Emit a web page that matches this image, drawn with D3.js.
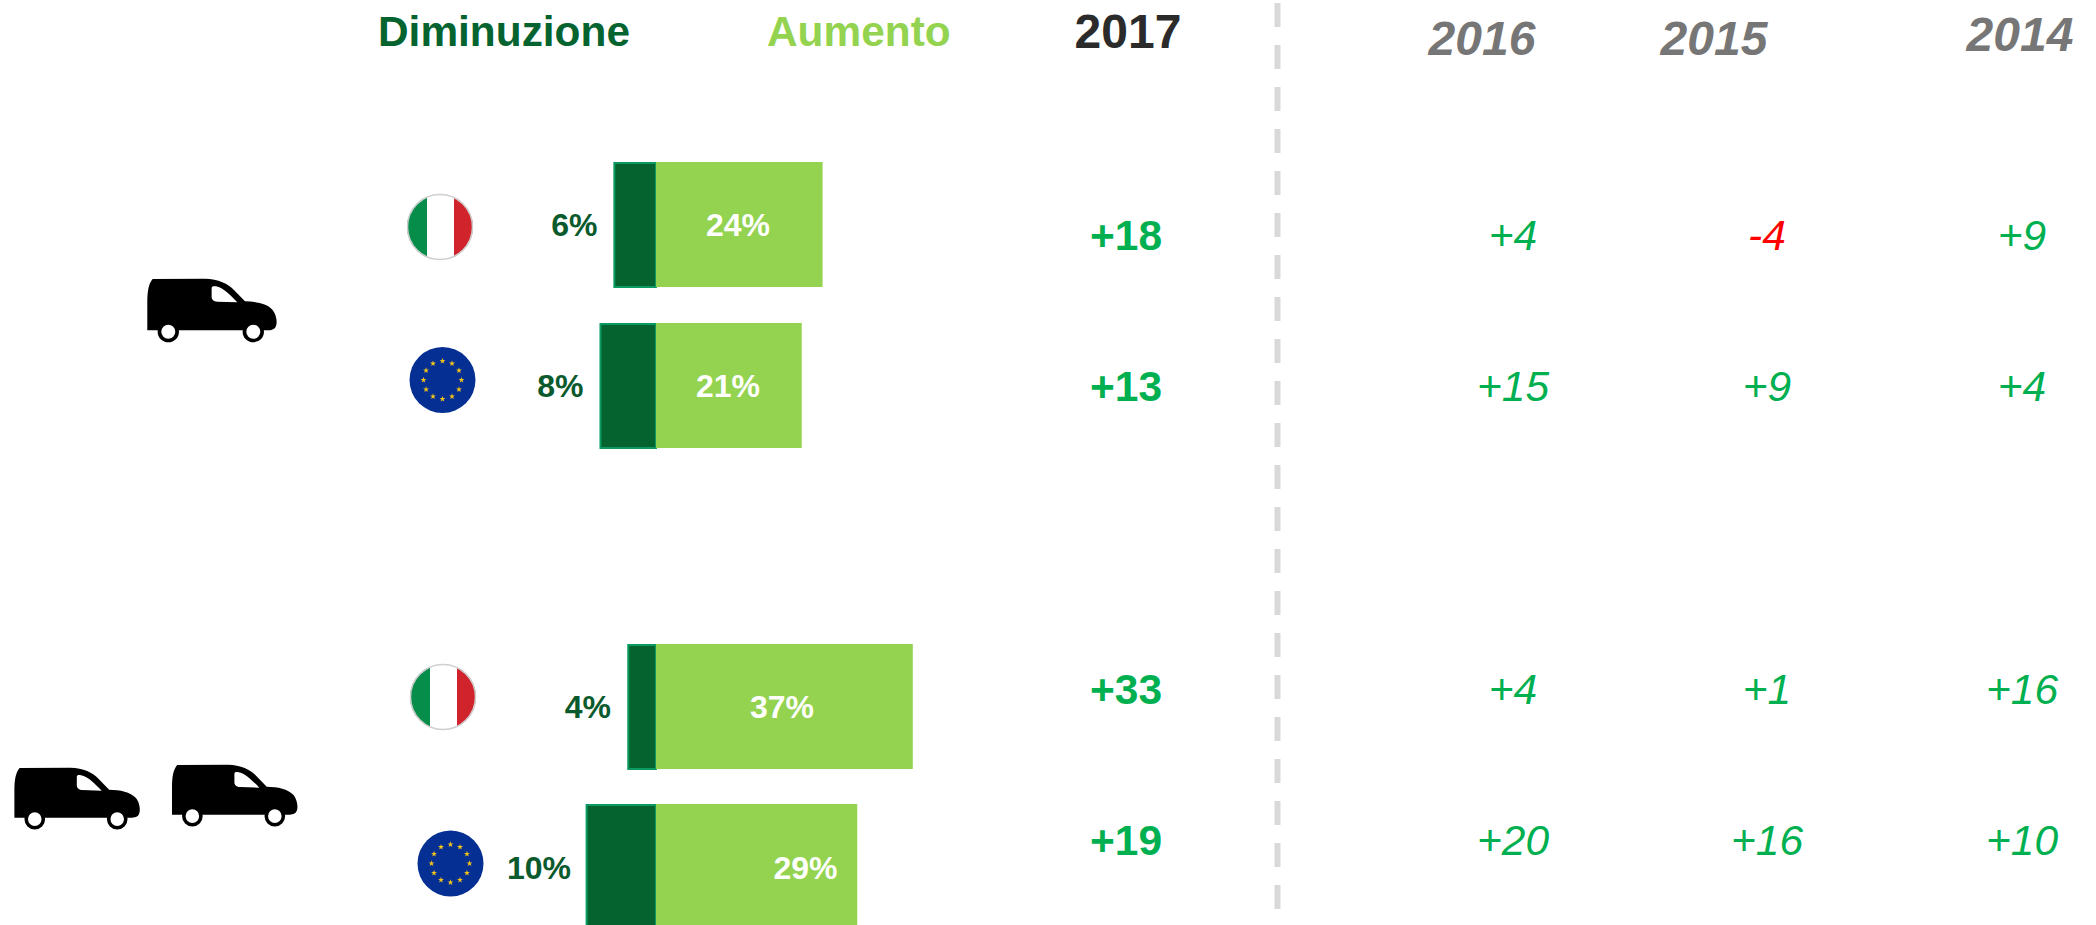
<!DOCTYPE html>
<html><head><meta charset="utf-8">
<script src="https://cdn.jsdelivr.net/npm/d3@7"></script>
<style>html,body{margin:0;padding:0;background:#fff;overflow:hidden}svg{display:block}text{font-family:"Liberation Sans",Arial,sans-serif}</style>
</head><body><svg id="c" width="2096" height="925"></svg>
<script>
const rowFlags = ["it","eu","it","eu"];
const decrease = [6,8,4,10];
const increase = [24,21,37,29];
const years = ["2017","2016","2015","2014"];
const v2017 = ["+18","+13","+33","+19"];
const v2016 = ["+4","+15","+4","+20"];
const v2015 = ["-4","+9","+1","+16"];
const v2014 = ["+9","+4","+16","+10"];
const legendLabels = ["Diminuzione","Aumento"];

const svg = d3.select("#c");
const x = d3.scaleLinear().domain([0,10]).range([656,725.4]);
const barTop = [162,323,644,804];
const flagC = [[440,227],[442.5,380],[443,697],[450.5,863.5]];
const decLabelRight = [597.5,583.5,611,571];
const incLabelC = [738,728,782,805.5];
const labelBase = [236,397,718,879];
const valueBase = [250,401,704,855];
const BH = 125;

// bars
rowFlags.forEach((f,i)=>{
  svg.append("rect").attr("x",x(-decrease[i])).attr("y",barTop[i]+1).attr("width",x(0)-x(-decrease[i])).attr("height",BH-1)
    .attr("fill","#04632f").attr("stroke","#0b9a62").attr("stroke-width",2);
  svg.append("rect").attr("x",x(0)).attr("y",barTop[i]).attr("width",x(increase[i])-x(0)).attr("height",BH).attr("fill","#93d34f");
  svg.append("text").attr("x",decLabelRight[i]).attr("y",labelBase[i]).attr("text-anchor","end").attr("font-size",32).attr("font-weight",700).attr("fill","#0a5a2d").text(decrease[i]+"%");
  svg.append("text").attr("x",incLabelC[i]).attr("y",labelBase[i]).attr("text-anchor","middle").attr("font-size",32).attr("font-weight",700).attr("fill","#fff").text(increase[i]+"%");
});

// flags
const defs = svg.append("defs");
function flag(cx,cy,kind,id){
  const r = 33;
  if(kind==="it"){
    defs.append("clipPath").attr("id",id).append("circle").attr("cx",cx).attr("cy",cy).attr("r",r);
    const g = svg.append("g").attr("clip-path",`url(#${id})`);
    g.append("rect").attr("x",cx-r).attr("y",cy-r).attr("width",20).attr("height",2*r).attr("fill","#078d4a");
    g.append("rect").attr("x",cx-r+20).attr("y",cy-r).attr("width",27).attr("height",2*r).attr("fill","#fff");
    g.append("rect").attr("x",cx-r+47).attr("y",cy-r).attr("width",19).attr("height",2*r).attr("fill","#d0232b");
    svg.append("circle").attr("cx",cx).attr("cy",cy).attr("r",r-.5).attr("fill","none").attr("stroke","#cfcfcf").attr("stroke-width",1.5);
  } else {
    svg.append("circle").attr("cx",cx).attr("cy",cy).attr("r",r).attr("fill","#052f93");
    const star = d3.symbol().type(d3.symbolStar).size(11);
    d3.range(12).forEach(k=>{
      const a = k*Math.PI/6;
      svg.append("path").attr("d",star()).attr("fill","#f5c518")
        .attr("transform",`translate(${cx+19*Math.sin(a)},${cy-19*Math.cos(a)})`);
    });
  }
}
rowFlags.forEach((f,i)=>flag(flagC[i][0],flagC[i][1],f,"cl"+i));

// vans (path traced at 3x)
const vanD = "M52,211 L52,130 C52,90 57,70 68,57 L225,56 C265,56 295,72 312,90 L345,124 C380,125 410,130 428,150 C440,165 443,190 437,200 C433,208 425,211 410,211 Z";
const vanW = "M245,85 C245,78 250,78 258,79 C280,83 300,105 322,127 L262,125 C250,124 245,118 245,110 Z";
function van(left,top,k){
  const s = k/3;
  const g = svg.append("g").attr("transform",`translate(${left-52*s},${top-56*s}) scale(${s})`);
  g.append("path").attr("d",vanD).attr("fill","#000");
  g.append("path").attr("d",vanW).attr("fill","#fff");
  [115,370].forEach(cx=>{
    g.append("circle").attr("cx",cx).attr("cy",215).attr("r",26.5).attr("fill","#fff").attr("stroke","#000").attr("stroke-width",11);
  });
}
van(147.3,278.7,1); van(14.4,767.7,0.97); van(172,764.7,0.97);

// headers
svg.append("text").attr("x",378).attr("y",46).attr("font-size",42.4).attr("font-weight",700).attr("fill","#04632f").text(legendLabels[0]);
svg.append("text").attr("x",767).attr("y",46).attr("font-size",42.4).attr("font-weight",700).attr("fill","#93d34f").text(legendLabels[1]);
svg.append("text").attr("x",1128).attr("y",48).attr("text-anchor","middle").attr("font-size",48).attr("font-weight",700).attr("fill","#2b2b2b").text(years[0]);
const headC = [1482,1714,2020], headY=[55,55,51];
years.slice(1).forEach((y,i)=>{
  svg.append("text").attr("x",headC[i]).attr("y",headY[i]).attr("text-anchor","middle").attr("font-size",48).attr("font-weight",700).attr("font-style","italic").attr("fill","#767676").text(y);
});

// divider
svg.append("line").attr("x1",1277.5).attr("x2",1277.5).attr("y1",3).attr("y2",925).attr("stroke","#d9d9d9").attr("stroke-width",6).attr("stroke-dasharray","24 18");

// values
const green="#00b050", red="#ff0000";
const colC = [1126,1513,1767,2022];
valueBase.forEach((y,i)=>{
  svg.append("text").attr("x",colC[0]).attr("y",y).attr("text-anchor","middle").attr("font-size",42.5).attr("font-weight",700).attr("fill",green).text(v2017[i]);
  [v2016,v2015,v2014].forEach((col,k)=>{
    svg.append("text").attr("x",colC[k+1]).attr("y",y).attr("text-anchor","middle").attr("font-size",42.5).attr("font-style","italic").attr("fill",col[i][0]==="-"?red:green).text(col[i]);
  });
});
</script></body></html>
